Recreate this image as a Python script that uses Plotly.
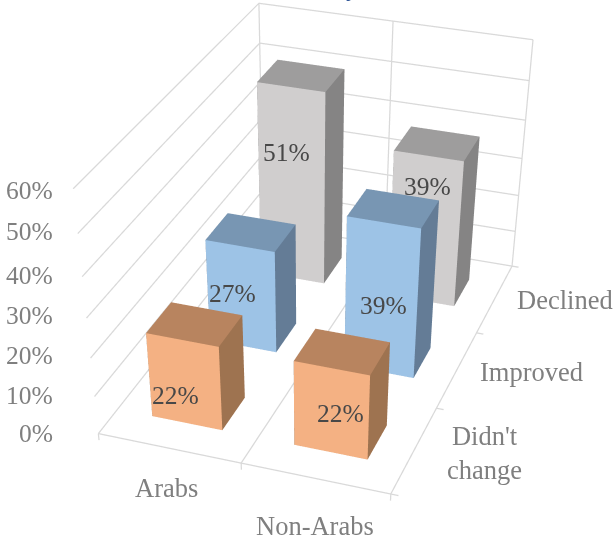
import numpy as np
import plotly.graph_objects as go

# ---- data
groups = ["Arabs", "Non-Arabs"]
answers = ["Didn't<br>change", "Improved", "Declined"]
arabs = [22, 27, 51]
non_arabs = [22, 39, 39]
zticks = [0, 10, 20, 30, 40, 50, 60]

# ---- view
EYE = np.array([1.6453, -4.7893, 2.6202])
CENTER = np.array([0.2337, -0.7876, -1.2864])
ASPECT_X, ASPECT_Y, ASPECT_Z = 1.0, 1.5332, 0.8524
BAR_HALF_W, BAR_HALF_D = 0.2494, 0.2009
FIG_H = 1364   # taller than the window: gives the long lens of the original
W = 616
FOCAL = (FIG_H / 2) / np.tan(np.pi / 8)

def project(ix, iy, z):
    P = np.array([ASPECT_X * ((ix + .5) / 2 - .5), ASPECT_Y * ((iy + .5) / 3 - .5), ASPECT_Z * (z / 60 - .5)])
    F = CENTER - EYE
    F = F / np.linalg.norm(F)
    R = np.cross(F, [0, 0, 1])
    R = R / np.linalg.norm(R)
    U = np.cross(R, F)
    d = P - EYE
    return W / 2 + FOCAL * d.dot(R) / d.dot(F), FIG_H / 2 - FOCAL * d.dot(U) / d.dot(F)

padx, pady, padz = 0.1, 0.1, 6
xr = [-0.5 - padx, 1.5 + padx]
yr = [-0.5 - pady, 2.5 + pady]
zr = [-padz, 60 + padz]
asp = dict(x=ASPECT_X * (2 + 2 * padx) / 2, y=ASPECT_Y * (3 + 2 * pady) / 3, z=ASPECT_Z * (60 + 2 * padz) / 60)
colors = [("#F4B183", "#B8845F", "#9E7350"), ("#9DC3E6", "#7896B3", "#647C96"), ("#D0CECE", "#9E9D9D", "#858484")]

fig = go.Figure()

def add_line(xs, ys, zs):
    fig.add_trace(go.Scatter3d(x=xs, y=ys, z=zs, mode="lines", line=dict(color="#d9d9d9", width=2.5),
                               hoverinfo="skip", showlegend=False))

x0, x1, xm = -.5, 1.5, .5
y0, y1 = -.5, 2.5
for z in zticks:
    add_line([x0, x0, x1], [y0, y1, y1], [z, z, z])
for x in [x0, xm, x1]:
    add_line([x, x], [y1, y1], [0, 60])
    add_line([x, x], [y0, y1], [0, 0])
    add_line([x, x], [y0, y0], [-1.8, 0])
add_line([x0, x1], [y0, y0], [0, 0])
for y in [-.5, .5, 1.5, 2.5]:
    add_line([x1, x1 + .05], [y, y], [0, 0])

for ix, vals in enumerate([arabs, non_arabs]):
    for iy, val in enumerate(vals):
        xa, xb = ix - BAR_HALF_W, ix + BAR_HALF_W
        ya, yb = iy - BAR_HALF_D, iy + BAR_HALF_D
        X = [xa, xb, xb, xa, xa, xb, xb, xa]
        Y = [ya, ya, yb, yb, ya, ya, yb, yb]
        Z = [0, 0, 0, 0, val, val, val, val]
        i = [0, 0, 1, 1, 2, 2, 3, 3, 4, 4, 0, 0]
        j = [1, 5, 2, 6, 3, 7, 0, 4, 5, 6, 1, 2]
        k = [5, 4, 6, 5, 7, 6, 4, 7, 6, 7, 2, 3]
        fc, tc, sc = colors[iy]
        fcs = [fc, fc, sc, sc, sc, sc, sc, sc, tc, tc, tc, tc]
        fig.add_trace(go.Mesh3d(x=X, y=Y, z=Z, i=i, j=j, k=k, facecolor=fcs, flatshading=True,
                                lighting=dict(ambient=1, diffuse=0, specular=0, roughness=1, fresnel=0),
                                hoverinfo="skip", showlegend=False))

FONT = "Liberation Serif"
TICK = "#7f7f7f"
LAB = "#484848"
ann = []

def label(ix, iy, z, text, tx, ty, color, size, xanchor="center"):
    a, b = project(ix, iy, z)
    ann.append(dict(x=ix, y=iy, z=z, text=text, showarrow=False, xanchor=xanchor, yanchor="middle",
                    xshift=tx - a, yshift=b - ty, font=dict(family=FONT, size=size, color=color)))

for z, ty in zip(zticks, [433, 395, 355, 315, 275, 231, 190]):
    label(x0, y0, z, f"{z}%", 55, ty, TICK, 25.5, "right")
label(0, y0, 0, groups[0], 166, 488, TICK, 26.5)
label(1, y0, 0, groups[1], 315, 526, TICK, 26.5)
for iy, (t, tx, ty) in enumerate(zip(answers, [484, 531, 565], [453, 372, 300])):
    label(x1, iy, 0, t, tx, ty, TICK, 26.5)
label_xy = {(0, 0): (175, 395), (0, 1): (232, 293), (0, 2): (286, 152),
            (1, 0): (340, 413), (1, 1): (383, 305), (1, 2): (427, 186)}
for ix, vals in enumerate([arabs, non_arabs]):
    for iy, val in enumerate(vals):
        tx, ty = label_xy[(ix, iy)]
        label(ix, iy - BAR_HALF_D, val / 2, f"{val}%", tx, ty, LAB, 25.5)

fig.update_layout(
    width=W, height=FIG_H, margin=dict(l=0, r=0, t=0, b=0), paper_bgcolor="white", showlegend=False,
    scene=dict(domain=dict(x=[0, 1], y=[0, 1]), aspectmode="manual", aspectratio=asp, bgcolor="white",
               xaxis=dict(visible=False, range=xr), yaxis=dict(visible=False, range=yr), zaxis=dict(visible=False, range=zr),
               camera=dict(eye=dict(x=EYE[0], y=EYE[1], z=EYE[2]), center=dict(x=CENTER[0], y=CENTER[1], z=CENTER[2]),
                           up=dict(x=0, y=0, z=1), projection=dict(type="perspective")),
               annotations=ann),
    annotations=[dict(xref="paper", yref="paper", x=352 / W, y=1 - 3 / FIG_H, xanchor="center", yanchor="bottom",
                      showarrow=False, text="<b>y</b>", font=dict(family=FONT, size=24, color="#2F5597"))])
fig.write_html("out.html", config=dict(displayModeBar=False),
               post_script="var s=document.body.style;s.margin='0';s.overflow='hidden';document.documentElement.style.overflow='hidden';")
